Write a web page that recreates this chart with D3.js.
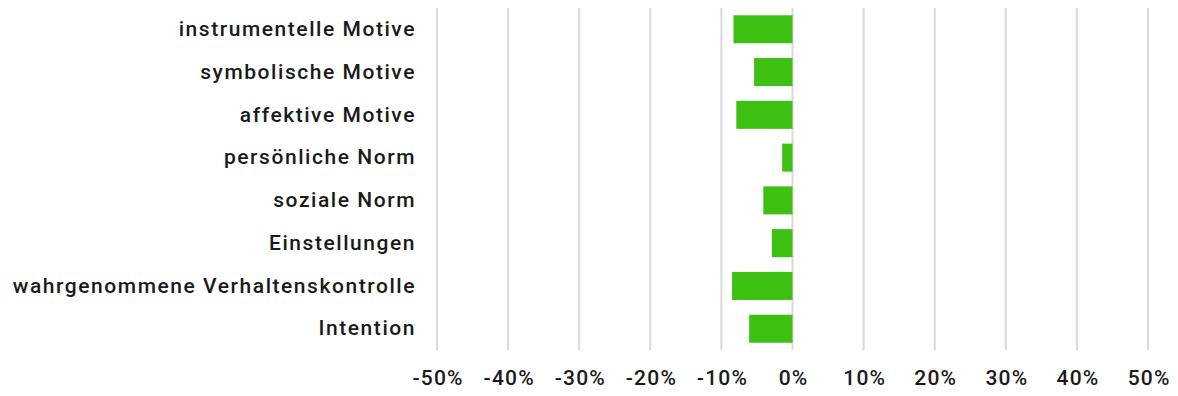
<!DOCTYPE html>
<html>
<head>
<meta charset="utf-8">
<script src="https://cdn.jsdelivr.net/npm/d3@7"></script>
<style>
  html, body { margin: 0; padding: 0; background: #fff; }
  svg text { font-family: Roboto, "Noto Sans", sans-serif; font-weight: 500; fill: #1a1a1a; }
</style>
</head>
<body>
<svg id="chart" width="1178" height="396"></svg>
<script>
// Kategorien (von oben nach unten) und Veränderung in Prozent
const categories = [
  "instrumentelle Motive",
  "symbolische Motive",
  "affektive Motive",
  "persönliche Norm",
  "soziale Norm",
  "Einstellungen",
  "wahrgenommene Verhaltenskontrolle",
  "Intention"
];
const values = [-8.3, -5.4, -7.9, -1.45, -4.1, -2.9, -8.5, -6.1];
const tickValues = [-50, -40, -30, -20, -10, 0, 10, 20, 30, 40, 50];

const svg = d3.select("#chart");
const margin = { top: 8, right: 30, bottom: 46, left: 437 };
const width = 1178, height = 396;

const x = d3.scaleLinear()
  .domain([-50, 50])
  .range([margin.left, 1148]);

const y = d3.scaleBand()
  .domain(categories)
  .range([margin.top, height - margin.bottom])
  .paddingInner(0.345)
  .paddingOuter(0.17);

// vertikale Gitterlinien
svg.append("g")
  .selectAll("line")
  .data(tickValues)
  .join("line")
  .attr("x1", d => x(d))
  .attr("x2", d => x(d))
  .attr("y1", margin.top)
  .attr("y2", height - margin.bottom)
  .attr("stroke", "#d9d9d9")
  .attr("stroke-width", 2);

// Balken
svg.append("g")
  .selectAll("rect")
  .data(values)
  .join("rect")
  .attr("x", d => x(Math.min(0, d)))
  .attr("width", d => Math.abs(x(d) - x(0)))
  .attr("y", (d, i) => y(categories[i]))
  .attr("height", y.bandwidth())
  .attr("fill", "#3dc012");

// Achsenbeschriftung x
const xAxis = d3.axisBottom(x)
  .tickValues(tickValues)
  .tickFormat(d => d + "%")
  .tickSize(0)
  .tickPadding(12);

svg.append("g")
  .attr("transform", `translate(0,${height - margin.bottom + 8})`)
  .call(xAxis)
  .call(g => g.select(".domain").remove())
  .selectAll("text")
  .attr("dx", "0.6px")
  .style("font-size", "21px")
  .style("letter-spacing", "1.2px");

// Kategorienbeschriftung y
const yAxis = d3.axisLeft(y).tickSize(0).tickPadding(21);
svg.append("g")
  .attr("transform", `translate(${margin.left},0)`)
  .call(yAxis)
  .call(g => g.select(".domain").remove())
  .selectAll("text")
  .style("font-size", "21px")
  .style("letter-spacing", "1.55px");
</script>
</body>
</html>
